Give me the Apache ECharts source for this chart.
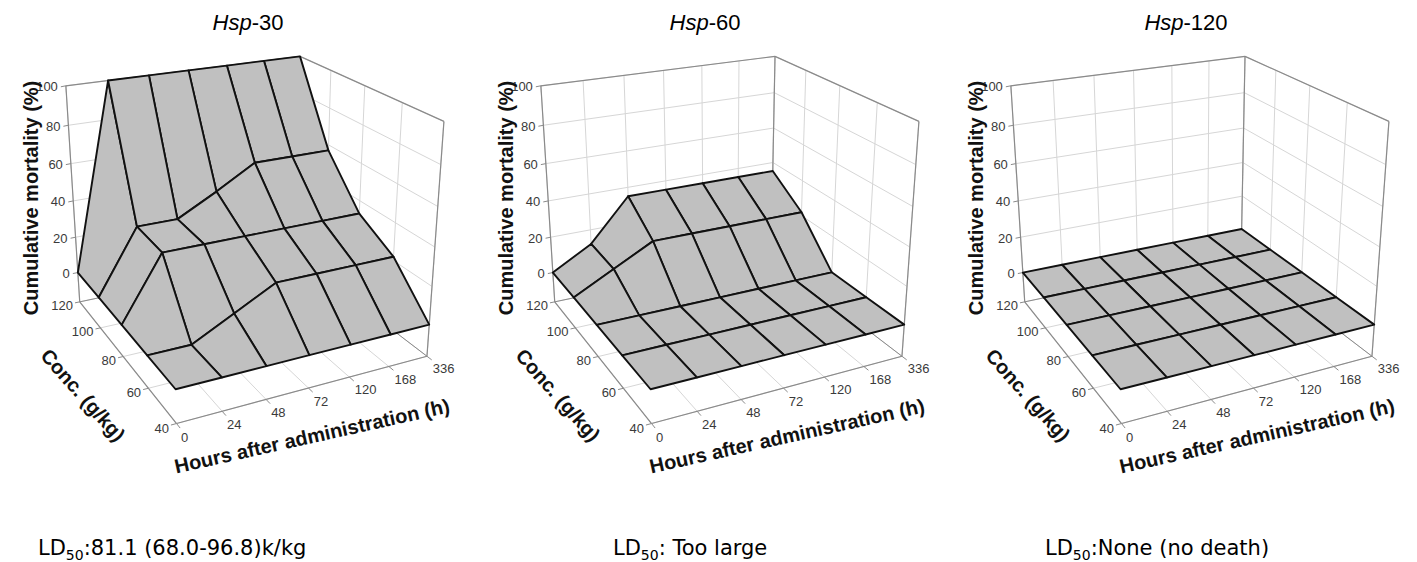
<!DOCTYPE html>
<html>
<head>
<meta charset="utf-8">
<script src="https://cdn.jsdelivr.net/npm/echarts@6/dist/echarts.min.js"></script>
<style>
  html, body { margin: 0; padding: 0; background: #fff; }
  #main { width: 1417px; height: 562px; }
</style>
</head>
<body>
<div id="main"></div>
<script>
// axes
var hours = ['0', '24', '48', '72', '120', '168', '336'];
var concs = ['40', '60', '80', '100', '120'];
var mortTicks = [0, 20, 40, 60, 80, 100];

// cumulative mortality (%) per concentration, one value per hour
var hsp30_c40 = [0, 0, 0, 0, 0, 0, 0];
var hsp30_c60 = [0, 0, 11, 22, 22, 22, 22];
var hsp30_c80 = [0, 33, 33, 33, 33, 33, 33];
var hsp30_c100 = [0, 34, 34, 45, 57, 57, 57];
var hsp30_c120 = [0, 100, 100, 100, 100, 100, 100];

var hsp60_c40 = [0, 0, 0, 0, 0, 0, 0];
var hsp60_c60 = [0, 0, 0, 0, 0, 0, 0];
var hsp60_c80 = [0, 0, 0, 0, 0, 0, 0];
var hsp60_c100 = [0, 11, 22, 22, 22, 22, 22];
var hsp60_c120 = [0, 12, 35, 35, 35, 35, 35];

var hsp120_c40 = [0, 0, 0, 0, 0, 0, 0];
var hsp120_c60 = [0, 0, 0, 0, 0, 0, 0];
var hsp120_c80 = [0, 0, 0, 0, 0, 0, 0];
var hsp120_c100 = [0, 0, 0, 0, 0, 0, 0];
var hsp120_c120 = [0, 0, 0, 0, 0, 0, 0];

var panelNames = ['30', '60', '120'];
var ld50Text = [':81.1 (68.0-96.8)k/kg', ': Too large', ':None (no death)'];

var surfaces = [
  [hsp30_c40, hsp30_c60, hsp30_c80, hsp30_c100, hsp30_c120],
  [hsp60_c40, hsp60_c60, hsp60_c80, hsp60_c100, hsp60_c120],
  [hsp120_c40, hsp120_c60, hsp120_c80, hsp120_c100, hsp120_c120]
];

// layout
var panelX = [245, 720, 1190];
var panelY = 219;
var titleX = [248, 705, 1186];
var ldX = [38, 613, 1045];

var view = {
  yaw: 26.5, pitch: 22.5, dist: 1100,
  lenX: 270, lenY: 268, perUnit: 2.08, zMid: 42, floor: -17
};

var GRID = '#d6d6d6';
var EDGE = '#8a8a8a';
var LABEL_FONT = '13px "Liberation Sans", Arial, sans-serif';
var TITLE_FONT = 'bold 20px "Liberation Sans", Arial, sans-serif';

// 3D -> 2D projection (hour index, conc index, mortality)
function project(ix, iy, v) {
  var x = (ix / (hours.length - 1) - 0.5) * view.lenX;
  var y = (iy / (concs.length - 1) - 0.5) * view.lenY;
  var z = (v - view.zMid) * view.perUnit;
  var a = view.yaw * Math.PI / 180, p = view.pitch * Math.PI / 180;
  var r = x * Math.cos(a) - y * Math.sin(a);
  var d = x * Math.sin(a) + y * Math.cos(a);
  var up = z * Math.cos(p) + d * Math.sin(p);
  var dep = d * Math.cos(p) - z * Math.sin(p);
  var s = view.dist / (view.dist + dep);
  return { pt: [r * s, up * s], dep: dep };
}

function textEl(x, y, str, font, align, vAlign, rot, color) {
  return {
    type: 'text', x: x, y: y, rotation: rot || 0,
    style: {
      text: str, font: font, fill: color || '#3a3a3a',
      align: align, verticalAlign: vAlign,
      textAlign: align, textVerticalAlign: vAlign
    }
  };
}

function renderBox(params, api) {
  var kids = [];
  var nx = hours.length - 1, ny = concs.length - 1;
  var f = view.floor, top = mortTicks[mortTicks.length - 1];
  function pt(ix, iy, v) { return api.coord(project(ix, iy, v).pt); }
  function seg(p, q, color, w) {
    kids.push({ type: 'line', shape: { x1: p[0], y1: p[1], x2: q[0], y2: q[1] },
      style: { stroke: color, lineWidth: w } });
  }
  // gridlines on floor and the two walls
  mortTicks.forEach(function (v) {
    seg(pt(0, ny, v), pt(nx, ny, v), GRID, 1);
    seg(pt(nx, ny, v), pt(nx, 0, v), GRID, 1);
  });
  hours.forEach(function (h, i) {
    seg(pt(i, 0, f), pt(i, ny, f), GRID, 1);
    seg(pt(i, ny, f), pt(i, ny, top), GRID, 1);
  });
  concs.forEach(function (c, j) {
    seg(pt(0, j, f), pt(nx, j, f), GRID, 1);
    seg(pt(nx, j, f), pt(nx, j, top), GRID, 1);
  });
  // wall outlines and axes
  seg(pt(0, ny, f), pt(0, ny, top), EDGE, 1.2);
  seg(pt(0, ny, top), pt(nx, ny, top), EDGE, 1.2);
  seg(pt(nx, ny, f), pt(nx, ny, top), EDGE, 1.2);
  seg(pt(nx, ny, top), pt(nx, 0, top), EDGE, 1.2);
  seg(pt(nx, 0, f), pt(nx, 0, top), EDGE, 1.2);
  seg(pt(0, ny, f), pt(0, 0, f), EDGE, 1.2);
  seg(pt(0, 0, f), pt(nx, 0, f), EDGE, 1.2);
  seg(pt(nx, 0, f), pt(nx, ny, f), EDGE, 1);
  seg(pt(0, ny, f), pt(nx, ny, f), EDGE, 1);
  // vertical axis ticks + labels
  mortTicks.forEach(function (v) {
    var p = pt(0, ny, v);
    seg(p, [p[0] - 5, p[1] + 1], EDGE, 1);
    kids.push(textEl(p[0] - 8, p[1] + 1, String(v), LABEL_FONT, 'right', 'middle'));
  });
  // conc axis ticks + labels
  concs.forEach(function (c, j) {
    var p = pt(0, j, f), q = pt(-0.12, j, f);
    seg(p, q, EDGE, 1);
    kids.push(textEl(q[0] - 2, q[1] + 3, c, LABEL_FONT, 'right', 'middle'));
  });
  // hour axis ticks + labels
  hours.forEach(function (h, i) {
    var p = pt(i, 0, f), q = pt(i, -0.12, f);
    seg(p, q, EDGE, 1);
    kids.push(textEl(q[0] + 1, q[1] + 9, h, LABEL_FONT, 'left', 'middle'));
  });
  // axis titles
  var c0 = api.coord([0, 0]);
  kids.push(textEl(c0[0] - 214, c0[1] - 21, 'Cumulative mortality (%)', TITLE_FONT, 'center', 'middle', Math.PI / 2, '#111'));
  kids.push(textEl(c0[0] - 162, c0[1] + 176, 'Conc. (g/kg)', TITLE_FONT, 'center', 'middle', -48.4 * Math.PI / 180, '#111'));
  kids.push(textEl(c0[0] + 67, c0[1] + 217, 'Hours after administration (h)', TITLE_FONT, 'center', 'middle', 12.6 * Math.PI / 180, '#111'));
  return { type: 'group', children: kids };
}

function renderCell(params, api) {
  var i = api.value(0), j = api.value(1);
  var corners = [[i, j, api.value(2)], [i + 1, j, api.value(3)],
    [i + 1, j + 1, api.value(4)], [i, j + 1, api.value(5)]];
  var pts = corners.map(function (c) { return api.coord(project(c[0], c[1], c[2]).pt); });
  return {
    type: 'polygon', shape: { points: pts },
    style: { fill: '#c0c0c0', stroke: '#111', lineWidth: 1.9, lineJoin: 'round' }
  };
}

function cellData(rows) {
  var out = [];
  for (var j = 0; j < rows.length - 1; j++) {
    for (var i = 0; i < rows[j].length - 1; i++) {
      var v = [i, j, rows[j][i], rows[j][i + 1], rows[j + 1][i + 1], rows[j + 1][i]];
      var avg = (v[2] + v[3] + v[4] + v[5]) / 4;
      out.push({ value: v, dep: project(i + 0.5, j + 0.5, avg).dep });
    }
  }
  out.sort(function (a, b) { return b.dep - a.dep; });
  return out.map(function (d) { return d.value; });
}

var grids = [], xAxes = [], yAxes = [], series = [], graphics = [];
surfaces.forEach(function (rows, k) {
  grids.push({ left: panelX[k] - 240, top: panelY - 200, width: 460, height: 500 });
  xAxes.push({ type: 'value', gridIndex: k, min: -240, max: 220, show: false });
  yAxes.push({ type: 'value', gridIndex: k, min: -300, max: 200, show: false });
  series.push({
    type: 'custom', xAxisIndex: k, yAxisIndex: k, silent: true,
    renderItem: renderBox, data: [[0, 0]], z: 1
  });
  series.push({
    type: 'custom', xAxisIndex: k, yAxisIndex: k, silent: true,
    renderItem: renderCell, data: cellData(rows), z: 2
  });
  graphics.push({
    type: 'text', x: titleX[k], y: 22,
    style: {
      text: '{i|Hsp}-' + panelNames[k], fill: '#000',
      font: '22px "Liberation Sans", Arial, sans-serif',
      align: 'center', verticalAlign: 'middle',
      rich: { i: { fontStyle: 'italic', fontSize: 22, fontFamily: '"Liberation Sans", Arial, sans-serif' } }
    }
  });
  graphics.push({
    type: 'text', x: ldX[k], y: 548,
    style: {
      text: '{a|LD}{s|50}{a|' + ld50Text[k] + '}', fill: '#000',
      align: 'left', verticalAlign: 'middle',
      rich: {
        a: { fontSize: 21, fontFamily: '"DejaVu Sans", sans-serif', lineHeight: 28, verticalAlign: 'middle' },
        s: { fontSize: 14, fontFamily: '"DejaVu Sans", sans-serif', lineHeight: 28, verticalAlign: 'bottom' }
      }
    }
  });
});

var chart = echarts.init(document.getElementById('main'), null, { renderer: 'svg' });
chart.setOption({
  backgroundColor: '#fff',
  animation: false,
  grid: grids,
  xAxis: xAxes,
  yAxis: yAxes,
  series: series,
  graphic: graphics
});
</script>
</body>
</html>
